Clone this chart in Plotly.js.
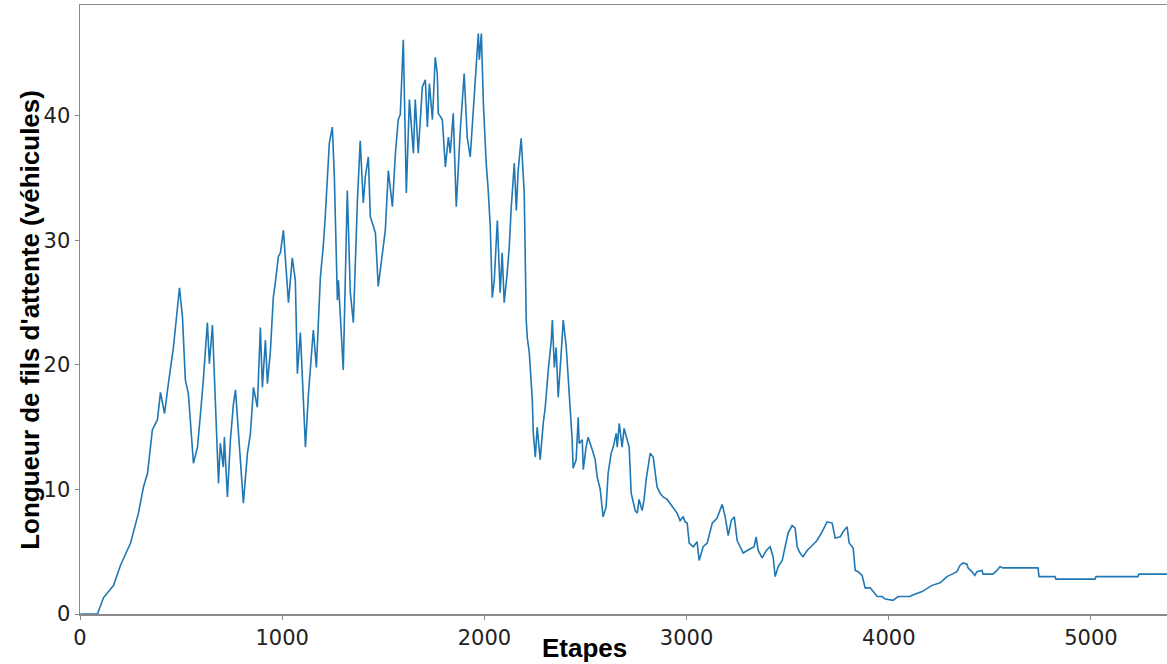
<!DOCTYPE html>
<html>
<head>
<meta charset="utf-8">
<script src="https://cdn.plot.ly/plotly-3.0.1.min.js"></script>
<style>html,body{margin:0;padding:0;background:#fff;}#chart{width:1167px;height:664px;}</style>
</head>
<body>
<div id="chart"></div>
<script>
// Simulation steps (x) and queue length in vehicles (y)
const steps = [2,87,91,116,166,200,250,289,314,334,358,383,398,418,437,462,492,507,521,536,561,581,596,610,630,640,655,670,680,685,694,709,714,729,744,759,769,783,808,828,843,858,877,892,902,917,927,942,956,966,976,981,991,1006,1031,1050,1065,1075,1090,1115,1130,1149,1154,1169,1189,1203,1213,1233,1248,1258,1273,1278,1302,1322,1337,1352,1372,1386,1401,1411,1426,1436,1461,1475,1495,1510,1525,1545,1560,1574,1584,1599,1614,1629,1649,1658,1673,1693,1708,1718,1728,1743,1757,1767,1772,1792,1807,1822,1831,1846,1861,1881,1900,1915,1930,1945,1955,1970,1975,1985,1995,2004,2009,2019,2029,2039,2049,2064,2069,2078,2088,2098,2113,2123,2133,2148,2158,2167,2182,2187,2197,2207,2212,2222,2237,2242,2252,2261,2276,2291,2301,2316,2331,2336,2346,2355,2365,2380,2390,2405,2415,2424,2434,2439,2454,2464,2469,2484,2489,2503,2513,2533,2548,2558,2573,2587,2602,2612,2627,2637,2652,2657,2667,2681,2691,2706,2716,2726,2736,2746,2756,2765,2780,2790,2800,2810,2820,2835,2844,2854,2869,2884,2904,2918,2933,2953,2968,2983,2993,3003,3013,3033,3052,3062,3082,3102,3127,3151,3176,3191,3206,3221,3236,3250,3265,3280,3300,3320,3334,3344,3354,3374,3394,3413,3428,3438,3453,3473,3487,3502,3522,3537,3547,3561,3576,3596,3621,3645,3670,3695,3720,3735,3760,3774,3794,3804,3824,3834,3848,3868,3883,3908,3923,3943,3967,3982,4021,4046,4071,4105,4115,4155,4165,4194,4214,4254,4268,4288,4313,4337,4352,4367,4387,4392,4411,4426,4436,4461,4466,4515,4535,4550,4565,4738,4743,4822,4827,5020,5025,5232,5237,5376];
const queueLength = [0,0,0.2,1.3,2.3,3.9,5.7,8.1,10.2,11.3,14.8,15.6,17.8,16.1,18.5,21.4,26.2,23.8,18.8,17.7,12.1,13.4,16.1,18.8,23.4,20.1,23.2,16.1,11.3,10.5,13.7,11.8,14.2,9.4,14.0,16.9,18.0,15.0,8.9,12.9,14.5,18.2,16.6,23.0,18.2,22.0,18.5,21.2,25.4,26.6,28.2,28.7,29.0,30.8,25.0,28.6,26.8,19.3,22.6,13.4,17.7,21.2,22.8,19.8,27.1,29.5,31.9,37.8,39.1,35.1,25.2,26.8,19.6,34.0,25.8,23.4,33.2,38.0,33.0,35.1,36.7,31.9,30.6,26.3,29.0,30.8,35.6,32.7,37.0,39.7,40.1,46.1,33.8,41.3,37.0,41.3,37.0,42.3,42.9,39.1,42.6,39.7,44.7,43.4,40.2,39.7,35.9,38.3,37.0,40.2,32.7,38.9,43.4,38.3,36.7,40.2,42.9,46.6,44.5,46.6,41.0,37.5,36.2,34.0,31.1,25.4,26.8,31.6,29.0,25.8,29.0,25.0,27.4,29.5,32.7,36.2,32.4,35.6,38.2,37.0,33.8,23.6,22.2,21.0,17.2,14.5,12.6,15.0,12.4,15.3,16.6,19.6,22.0,23.6,19.8,21.4,17.4,21.0,23.6,21.4,18.8,16.1,14.0,11.7,12.4,15.8,13.7,14.0,11.6,13.4,14.2,13.2,12.4,11.0,10.0,7.8,8.6,11.3,12.9,13.4,14.5,13.4,15.3,13.4,14.9,14.0,13.4,9.7,8.9,8.3,8.1,9.2,8.3,9.2,10.8,11.8,12.9,12.6,11.3,10.2,9.7,9.4,9.2,8.9,8.6,8.1,7.5,7.8,7.4,7.3,5.7,5.4,5.8,4.3,5.4,5.7,7.3,7.7,8.8,7.8,6.3,7.5,7.8,5.9,5.4,4.9,5.1,5.3,5.4,6.2,5.1,4.5,5.1,5.4,4.6,3.0,3.8,4.3,5.4,6.5,7.1,6.9,5.4,4.9,4.6,5.1,5.5,5.9,6.6,7.4,7.3,6.1,6.2,6.6,7.0,5.7,5.3,3.5,3.4,3.1,2.1,2.1,1.8,1.4,1.4,1.2,1.1,1.4,1.4,1.4,1.5,1.7,1.8,2.1,2.3,2.5,2.7,3.0,3.2,3.4,3.9,4.1,4.0,3.7,3.4,3.1,3.4,3.5,3.2,3.2,3.5,3.8,3.7,3.7,3.0,3.0,2.8,2.8,3.0,3.0,3.2,3.2];

const xTicks = [0, 1000, 2000, 3000, 4000, 5000];
const yTicks = [0, 10, 20, 30, 40];
const xTitle = "Etapes";
const yTitle = "Longueur de fils d'attente (véhicules)";

const trace = {
  x: steps,
  y: queueLength,
  type: 'scatter',
  mode: 'lines',
  line: {color: '#1f77b4', width: 1.6},
  hoverinfo: 'x+y'
};

const tickFont = {family: 'DejaVu Sans, sans-serif', size: 21, color: '#222'};
const titleFont = {family: 'Liberation Sans, Arial, sans-serif', size: 26, color: '#000', weight: 'bold'};

const layout = {
  width: 1167,
  height: 664,
  margin: {l: 80, r: 0, t: 5, b: 50, pad: 0},
  paper_bgcolor: '#ffffff',
  plot_bgcolor: '#ffffff',
  showlegend: false,
  xaxis: {
    range: [0, 5376],
    tickvals: xTicks,
    ticktext: xTicks.map(String),
    ticks: 'outside', ticklen: 4, tickwidth: 1, tickcolor: '#888',
    showline: true, linecolor: '#8a8a8a', linewidth: 1.5, mirror: true,
    showgrid: false, zeroline: false,
    tickfont: tickFont
  },
  yaxis: {
    range: [0, 48.9],
    tickvals: yTicks,
    ticktext: yTicks.map(String),
    ticks: 'outside', ticklen: 4, tickwidth: 1, tickcolor: '#888',
    showline: true, linecolor: '#8a8a8a', linewidth: 1.5, mirror: false,
    showgrid: false, zeroline: false,
    tickfont: tickFont
  },
  annotations: [
    {text: xTitle, xref: 'paper', yref: 'paper', x: 0.4637, y: -0.056,
     xanchor: 'center', yanchor: 'middle', showarrow: false, font: titleFont},
    {text: yTitle, xref: 'paper', yref: 'paper', x: -0.046, y: 0.483,
     xanchor: 'center', yanchor: 'middle', textangle: -90, showarrow: false, font: titleFont}
  ]
};

Plotly.newPlot('chart', [trace], layout, {displayModeBar: false, staticPlot: true});
</script>
</body>
</html>
